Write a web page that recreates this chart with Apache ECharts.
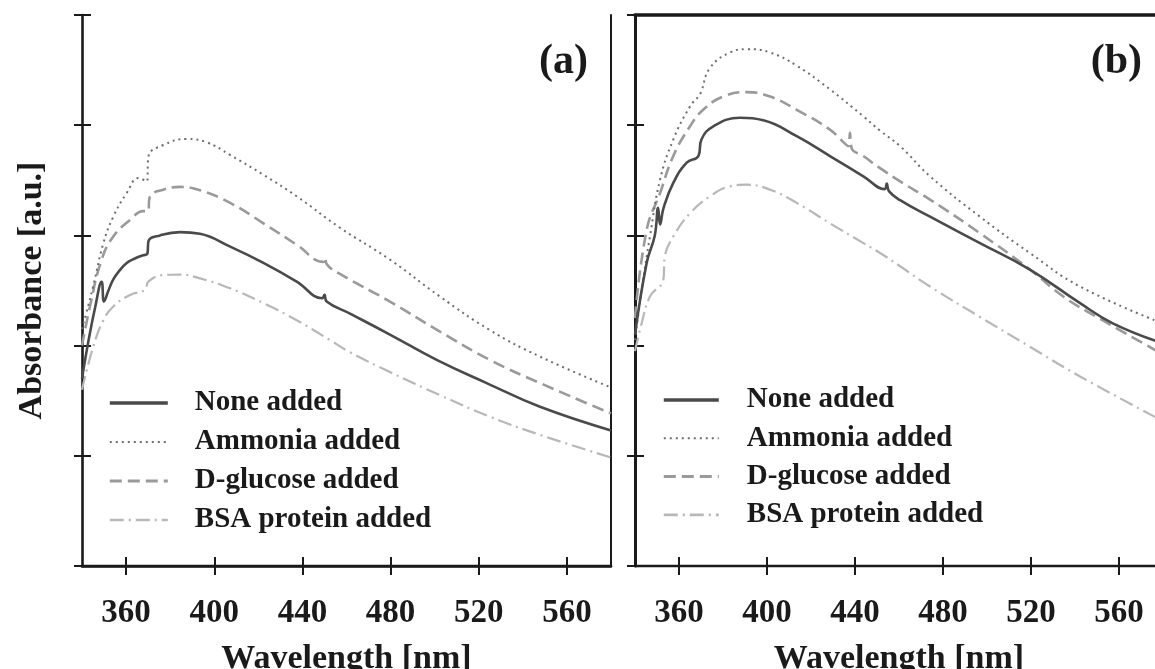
<!DOCTYPE html>
<html><head><meta charset="utf-8">
<script src="https://cdn.jsdelivr.net/npm/echarts@6/dist/echarts.min.js"></script>
<style>html,body{margin:0;padding:0;background:#fff}#c{width:1155px;height:669px}</style>
</head><body><div id="c"></div>
<script>
// ---- data ----
const seriesNames = ['None added', 'Ammonia added', 'D-glucose added', 'BSA protein added'];
const xTicks = [360, 400, 440, 480, 520, 560];
const panelLabels = ['(a)', '(b)'];

// panel (a): [wavelength nm, absorbance a.u.]
const aNone = [[340,1.70],[343,2.05],[346,2.35],[348.9,2.58],[350,2.40],[352,2.50],[354.2,2.60],[357,2.68],[360.3,2.75],[364,2.79],[367.8,2.82],[369.6,2.83],[370.2,2.95],[375.4,3.00],[384.5,3.03],[393.5,3.015],[407,2.90],[422.3,2.75],[437.4,2.58],[449,2.43],[450,2.46],[451,2.40],[461.6,2.29],[479.7,2.10],[500.9,1.87],[523.6,1.66],[547.8,1.445],[580,1.23]];
const aAmmonia = [[340,2.15],[342,2.30],[345.1,2.54],[349.7,2.93],[354.2,3.17],[360.3,3.385],[365.6,3.52],[369.4,3.49],[370.2,3.72],[376.9,3.82],[387.5,3.875],[396.6,3.845],[407.2,3.73],[422.3,3.55],[437.4,3.355],[457,3.07],[479.7,2.78],[502.4,2.445],[525.1,2.14],[547.8,1.90],[580,1.62]];
const aGlucose = [[340,2.00],[343.6,2.355],[348.9,2.78],[354.2,2.99],[361.8,3.14],[367.8,3.22],[369.8,3.22],[370.9,3.355],[376.9,3.415],[384.5,3.44],[393.5,3.41],[407.2,3.295],[422.3,3.11],[437.4,2.915],[449.5,2.76],[450.3,2.80],[451,2.74],[457,2.65],[479.7,2.40],[502.4,2.127],[525.1,1.87],[547.8,1.66],[580,1.385]];
const aBsa = [[340,1.60],[345.1,1.99],[349.7,2.23],[354.2,2.355],[361.8,2.46],[368.6,2.506],[370.1,2.58],[376.9,2.64],[384.5,2.645],[393.5,2.61],[407.2,2.52],[422.3,2.385],[437.4,2.23],[452.5,2.05],[461.6,1.94],[479.7,1.76],[502.4,1.55],[525.1,1.355],[547.8,1.19],[580,0.985]];

// panel (b)
const bNone = [[340,2.10],[345.3,2.75],[349,3.0],[350.5,3.25],[351.4,3.10],[353,3.25],[357.4,3.476],[363.5,3.66],[368.8,3.72],[370.2,3.87],[375.6,3.99],[387.7,4.067],[398.3,4.045],[413.5,3.90],[428.6,3.72],[443.8,3.536],[453.5,3.42],[454.4,3.47],[455.5,3.40],[460.5,3.32],[474.1,3.17],[496.8,2.93],[519.5,2.69],[542.3,2.385],[557.4,2.20],[580,2.02]];
const bAmmonia = [[340,2.05],[343,2.50],[346.8,2.99],[351.4,3.506],[357.4,3.87],[365,4.17],[368.8,4.26],[370,4.30],[374.1,4.52],[383.2,4.66],[390.8,4.69],[401.4,4.66],[413.5,4.54],[428.6,4.325],[443.8,4.08],[451.4,3.95],[460.5,3.81],[474.1,3.536],[496.8,3.17],[519.5,2.84],[542.3,2.536],[580,2.20]];
const bGlucose = [[340,2.25],[345.3,3.05],[351.4,3.385],[357.4,3.72],[365,3.99],[371,4.14],[380.1,4.26],[390.8,4.30],[401.4,4.26],[413.5,4.14],[428.6,3.96],[437,3.81],[437.7,3.93],[438.5,3.79],[443.8,3.72],[451.4,3.61],[460.5,3.49],[474.1,3.325],[496.8,3.02],[519.5,2.69],[534.7,2.445],[549.9,2.26],[580,1.92]];
const bBsa = [[340,1.95],[343,2.20],[346.8,2.445],[352.9,2.60],[353.5,2.80],[357.4,2.99],[365,3.20],[374.1,3.355],[383.2,3.445],[390.8,3.46],[401.4,3.415],[413.5,3.295],[428.6,3.11],[443.8,2.93],[451.4,2.84],[460.5,2.72],[474.1,2.536],[496.8,2.26],[519.5,1.99],[542.3,1.72],[580,1.315]];

// ---- styling ----
const FONT = '"Liberation Serif","Times New Roman",serif';
const INK = '#1a1a1a';
const lineStyles = [
  {color: '#4a4a4a', width: 2.6, type: 'solid'},
  {color: '#6e6e6e', width: 2, type: [2, 4]},
  {color: '#9a9a9a', width: 2.6, type: [12, 6]},
  {color: '#b8b8b8', width: 2.2, type: [14, 5, 2, 5]}
];
const legendWidths = [3.6, 2, 3, 2.6];
const panelData = [[aNone, aAmmonia, aGlucose, aBsa], [bNone, bAmmonia, bGlucose, bBsa]];

const grids = [
  {left: 82, top: 15, width: 529, height: 551, outerBoundsMode: 'none', containLabel: false},
  {left: 635, top: 15, width: 528, height: 551, outerBoundsMode: 'none', containLabel: false}
];
const xAxes = [], yAxes = [], series = [];
grids.forEach((g, i) => {
  const xMain = xAxes.length;
  xAxes.push({
    gridIndex: i, type: 'value', min: 340, max: 580, position: 'bottom',
    axisLine: {show: true, lineStyle: {color: INK, width: 2.4}},
    axisTick: {show: true, inside: false, length: 9, customValues: xTicks, lineStyle: {color: INK, width: 2}},
    axisLabel: {show: true, customValues: xTicks, margin: 31, color: INK, fontSize: 33, fontWeight: 'bold', fontFamily: FONT},
    splitLine: {show: false},
    name: 'Wavelength [nm]', nameLocation: 'middle', nameGap: 76,
    nameTextStyle: {color: INK, fontSize: 34, fontWeight: 'bold', fontFamily: FONT}
  });
  xAxes.push({
    gridIndex: i, type: 'value', min: 340, max: 580, position: 'bottom',
    axisLine: {show: false},
    axisTick: {show: true, inside: true, length: 9, customValues: xTicks, lineStyle: {color: INK, width: 2}},
    axisLabel: {show: false}, splitLine: {show: false}
  });
  xAxes.push({
    gridIndex: i, type: 'value', min: 340, max: 580, position: 'top',
    axisLine: {show: true, lineStyle: {color: INK, width: i === 0 ? 2.6 : 3.6}},
    axisTick: {show: false}, axisLabel: {show: false}, splitLine: {show: false}
  });
  const yMain = yAxes.length;
  yAxes.push({
    gridIndex: i, type: 'value', min: 0, max: 5, interval: 1, position: 'left',
    axisLine: {show: true, lineStyle: {color: INK, width: i === 0 ? 2.6 : 3}},
    axisTick: {show: true, inside: false, length: 8, lineStyle: {color: INK, width: 2}},
    axisLabel: {show: false}, splitLine: {show: false},
    name: i === 0 ? 'Absorbance [a.u.]' : '', nameLocation: 'middle', nameGap: 33,
    nameTextStyle: {color: INK, fontSize: 34, fontWeight: 'bold', fontFamily: FONT}
  });
  yAxes.push({
    gridIndex: i, type: 'value', min: 0, max: 5, interval: 1, position: 'left',
    axisLine: {show: false},
    axisTick: {show: true, inside: true, length: 9, lineStyle: {color: INK, width: 2}},
    axisLabel: {show: false}, splitLine: {show: false}
  });
  if (i === 0) {
    yAxes.push({
      gridIndex: i, type: 'value', min: 0, max: 5, position: 'right',
      axisLine: {show: true, lineStyle: {color: INK, width: 2}},
      axisTick: {show: false}, axisLabel: {show: false}, splitLine: {show: false}
    });
  }
  panelData[i].forEach((d, k) => {
    series.push({
      name: seriesNames[k], type: 'line', xAxisIndex: xMain, yAxisIndex: yMain,
      data: d, symbol: 'none', smooth: 0.45,
      lineStyle: lineStyles[k], itemStyle: {color: lineStyles[k].color},
      z: 10 - k
    });
  });
});

const legendBase = (left, top, w, pad, gap) => ({
  orient: 'vertical', left: left, top: top, padding: 0, itemWidth: w, itemHeight: 14, itemGap: gap,
  selectedMode: false, itemStyle: {opacity: 0},
  data: seriesNames.map((n, k) => ({name: n, lineStyle: {width: legendWidths[k], color: lineStyles[k].color, type: lineStyles[k].type}})),
  textStyle: {color: INK, fontSize: 29, fontWeight: 'bold', fontFamily: FONT, lineHeight: 30, padding: [0, 0, 0, pad]}
});

const chart = echarts.init(document.getElementById('c'), null, {renderer: 'canvas'});
chart.setOption({
  animation: false,
  backgroundColor: '#fff',
  grid: grids,
  xAxis: xAxes,
  yAxis: yAxes,
  legend: [legendBase(108, 388, 58, 22, 9), legendBase(662, 385, 55, 23, 8.3)],
  graphic: [
    {type: 'text', x: 588, y: 62, style: {text: panelLabels[0], fill: INK, font: 'bold 42px ' + FONT, align: 'right', verticalAlign: 'middle'}},
    {type: 'text', x: 1142, y: 62, style: {text: panelLabels[1], fill: INK, font: 'bold 42px ' + FONT, align: 'right', verticalAlign: 'middle'}}
  ],
  series: series
});
</script></body></html>
